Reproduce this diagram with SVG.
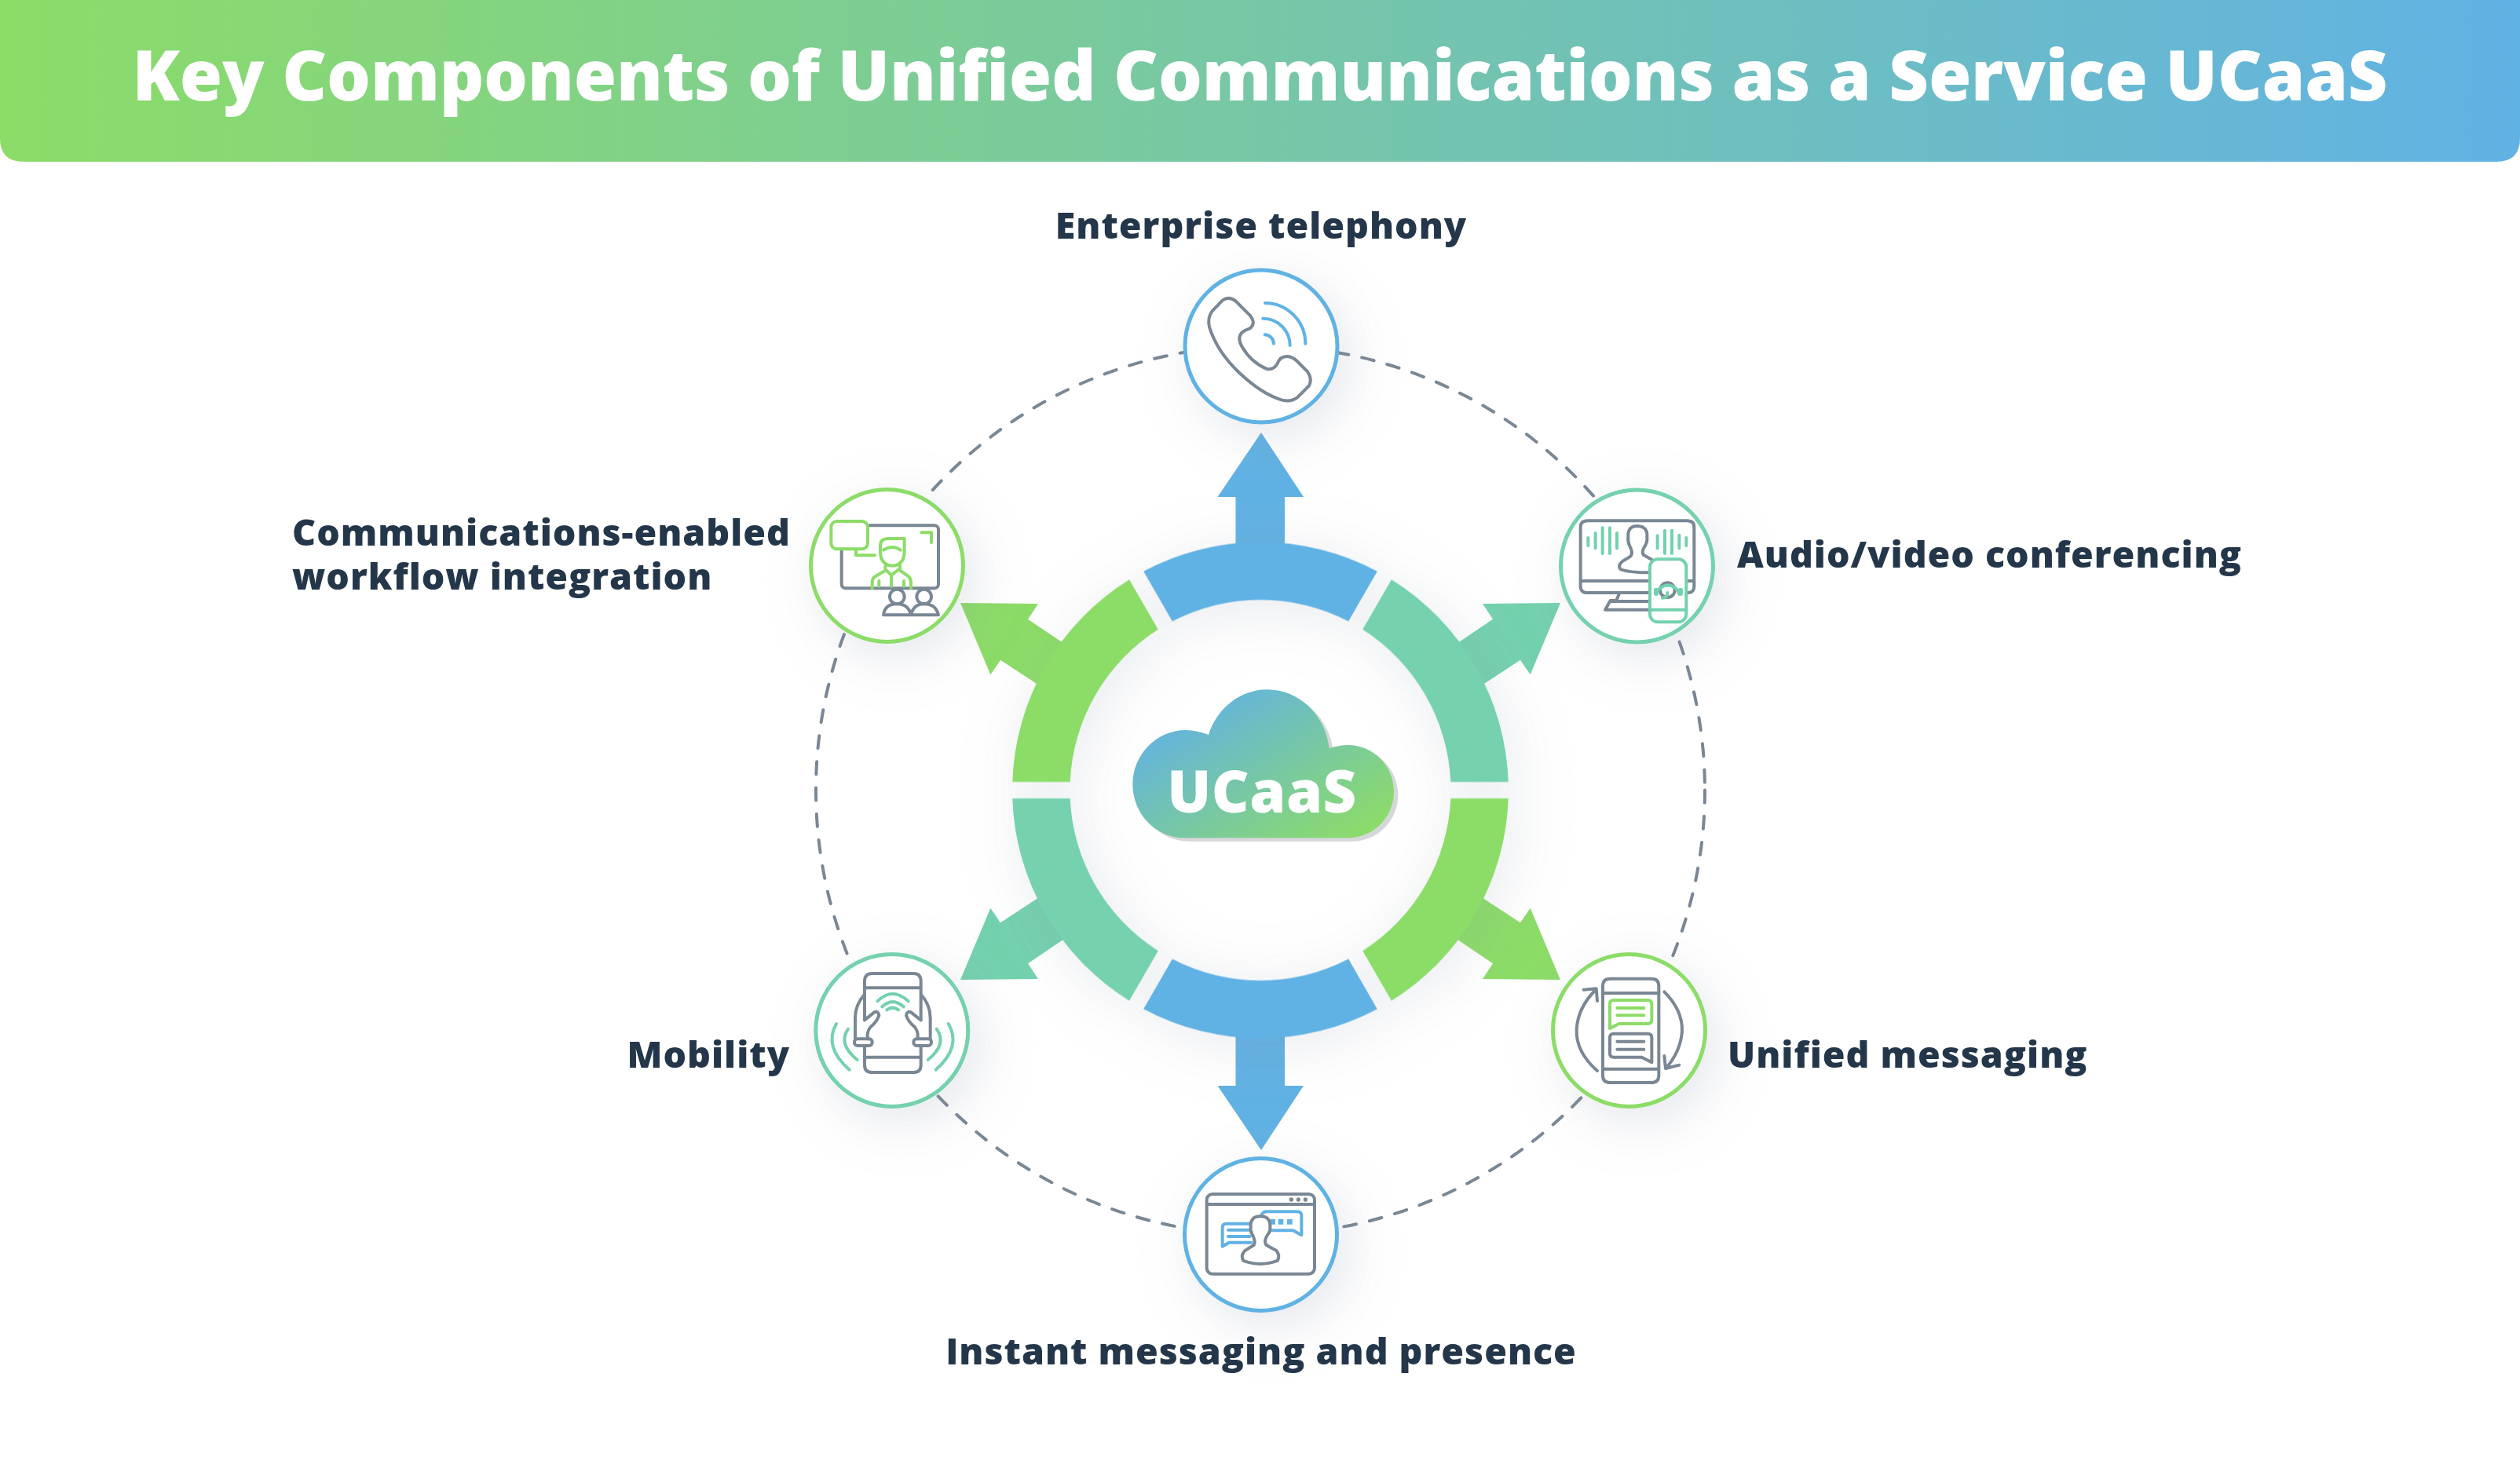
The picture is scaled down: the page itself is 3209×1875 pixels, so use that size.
<svg xmlns="http://www.w3.org/2000/svg" width="3209" height="1875" viewBox="0 0 3209 1875">
<style>
.lbl{font-family:"Open Sans","Liberation Sans",sans-serif;font-weight:800;font-size:46.5px;letter-spacing:1px;fill:#24374a}
.ttl{font-family:"Open Sans","Liberation Sans",sans-serif;font-weight:800;font-size:88px;letter-spacing:-.2px;fill:#fff}
.ic{fill:none;stroke-width:12;stroke-linecap:round;stroke-linejoin:round}
.g{stroke:#7a8794}.b{stroke:#61b2e4}.t{stroke:#74d1ae}.n{stroke:#8cdc68}
.nc{fill:#fff;stroke-width:5;filter:url(#ns)}
</style>
<defs>
<linearGradient id="hg" x1="0" y1="0" x2="1" y2="0"><stop offset="0" stop-color="#8cdc68"/><stop offset="1" stop-color="#61b2e4"/></linearGradient>
<linearGradient id="cg" x1="0.08" y1="0.2" x2="0.92" y2="0.95"><stop offset="0" stop-color="#61b2e4"/><stop offset="1" stop-color="#8cdc68"/></linearGradient>
<filter id="ns" x="-70%" y="-70%" width="240%" height="240%"><feDropShadow dx="14" dy="18" stdDeviation="34" flood-color="#8a93a8" flood-opacity=".22"/></filter>
<filter id="rs" x="-30%" y="-30%" width="160%" height="160%"><feDropShadow dx="8" dy="10" stdDeviation="38" flood-color="#8a93a8" flood-opacity=".2"/></filter>
<path id="seg" d="M-148.8-278.7A316 316 0 0 1 148.8-278.7L112.1-215.1A242.5 242.5 0 0 0-112.1-215.1Z"/>
<polygon id="arD" points="1987,768 1888,769 1901,788.7 1837,832 1870,884 1936,840.7 1948.7,859.3"/>
<polygon id="arV" points="1606,551 1550.5,633 1573.5,633 1573.5,705 1636,705 1636,633 1660,633"/>
</defs>
<rect width="3209" height="1875" fill="#fff"/>
<g id="header"><path d="M0 0H3209V176Q3209 206 3179 206H30Q0 206 0 176Z" fill="url(#hg)"/>
<text class="ttl" x="1604.5" y="128" text-anchor="middle">Key Components of Unified Communications as a Service UCaaS</text></g>
<g id="connectors">
<circle cx="1605" cy="1006.5" r="566" fill="none" stroke="#7a8794" stroke-width="4" stroke-linecap="round" stroke-dasharray="16 17.3"/>
<use href="#arV" fill="#61b2e4"/>
<use href="#arV" fill="#61b2e4" transform="translate(0 2016) scale(1 -1)"/>
<use href="#arD" fill="#74d1ae"/>
<use href="#arD" fill="#8cdc68" transform="translate(0 2016) scale(1 -1)"/>
<use href="#arD" fill="#8cdc68" transform="translate(3210 0) scale(-1 1)"/>
<use href="#arD" fill="#74d1ae" transform="translate(3210 2016) scale(-1 -1)"/>
</g>
<g id="ring" filter="url(#rs)" transform="translate(1605 1006.5)">
<use href="#seg" fill="#61b2e4"/>
<use href="#seg" fill="#74d1ae" transform="rotate(60)"/>
<use href="#seg" fill="#8cdc68" transform="rotate(120)"/>
<use href="#seg" fill="#61b2e4" transform="rotate(180)"/>
<use href="#seg" fill="#74d1ae" transform="rotate(240)"/>
<use href="#seg" fill="#8cdc68" transform="rotate(300)"/>
</g>
<g id="cloud">
<g transform="translate(1400 850) scale(.33333)">
<path fill="#d6d7d9" transform="translate(16 13)" d="M325 652C215 652 127 560 127 447C127 335 217 240 330 240C360 240 390 247 417 258C450 155 540 85 640 85C765 85 865 185 878 310C900 302 925 297 950 297C1047 297 1125 377 1125 475C1125 573 1047 652 950 652Z"/>
<path fill="url(#cg)" d="M325 652C215 652 127 560 127 447C127 335 217 240 330 240C360 240 390 247 417 258C450 155 540 85 640 85C765 85 865 185 878 310C900 302 925 297 950 297C1047 297 1125 377 1125 475C1125 573 1047 652 950 652Z"/>
</g>
<text x="1607" y="1035" text-anchor="middle" font-family="'Open Sans','Liberation Sans',sans-serif" font-weight="800" font-size="74" letter-spacing=".5" fill="#fff">UCaaS</text>
</g>
<g id="node-telephony">
<circle class="nc b" cx="1606" cy="441" r="97"/>
<g class="ic" transform="translate(1450 320) scale(.33333)">
<path class="g" d="M320 188Q345 170 370 190L425 245Q450 275 425 295Q408 300 395 310Q375 330 395 365Q430 425 490 450Q515 455 530 430Q540 400 570 402Q590 405 605 420L645 460Q665 490 650 515L605 560Q580 578 545 568Q470 545 385 465Q300 385 270 290Q262 255 280 230Z"/>
<path class="b" d="M483 198A155 155 0 0 1 637 353M475 257A103 103 0 0 1 578 360M482 319A35 35 0 0 1 516 353"/>
</g>
<text class="lbl" x="1606" y="304" text-anchor="middle">Enterprise telephony</text>
</g>
<g id="node-conferencing">
<circle class="nc t" cx="2084.5" cy="721" r="97"/>
<g class="ic" transform="translate(1960 600) scale(.33333)">
<path class="g" d="M420 465H185Q158 465 158 440V215Q158 190 185 190H565Q592 190 592 215V440Q592 465 568 465M158 420H418M565 420H592M305 470L295 495H272L252 530H420M275 498H420"/>
<path class="g" d="M375 210Q338 210 340 250Q338 270 345 285Q360 310 350 325Q330 338 318 345Q300 360 310 375Q340 388 420 388M375 210Q415 212 412 250Q414 270 405 285Q388 310 400 322L430 338"/>
<path class="t" d="M187 255V285M215 237V295M242 217V315M270 217V315M297 237V295M452 247V295M480 227V315M507 227V315M535 245V295M562 255V285"/>
<rect class="t" style="fill:#fff" x="423" y="337" width="139" height="240" rx="30"/>
<path class="t" d="M423 530H562"/>
<circle class="g" cx="490" cy="455" r="28"/>
<path class="t" d="M448 470A45 45 0 0 1 535 470M470 485Q490 485 490 465"/>
<path class="t" stroke-width="18" d="M447 455V468M540 455V468"/>
</g>
<text class="lbl" x="2212" y="723">Audio/video conferencing</text>
</g>
<g id="node-unified">
<circle class="nc n" cx="2074.5" cy="1312.5" r="97"/>
<g class="ic" transform="translate(1960 1200) scale(.33333)">
<path class="g" d="M271 140H429Q457 140 457 168V509Q457 537 429 537H271Q243 537 243 509V168Q243 140 271 140ZM243 195H457M243 485H457"/>
<path class="n" d="M285 222H415Q430 222 430 237V298Q430 312 415 312H305L270 330V237Q270 222 285 222ZM298 252H400M298 280H400"/>
<path class="g" d="M285 350H415Q430 350 430 365V460L392 440H285Q270 440 270 425V365Q270 350 285 350ZM298 380H400M298 410H400"/>
<path class="g" d="M222 492Q140 420 143 335Q147 250 218 180M170 182L218 178L222 225M478 190Q548 260 546 340Q540 420 483 483M478 435L483 483L535 470"/>
</g>
<text class="lbl" x="2200" y="1360">Unified messaging</text>
</g>
<g id="node-instant">
<circle class="nc b" cx="1605.5" cy="1572.5" r="97"/>
<g class="ic" transform="translate(1490 1460) scale(.33333)">
<rect class="g" x="140" y="183" width="412" height="305" rx="22"/>
<path class="g" d="M140 222H552"/>
<circle cx="463" cy="204" r="8" fill="#7a8794"/><circle cx="490" cy="204" r="8" fill="#7a8794"/><circle cx="517" cy="204" r="8" fill="#7a8794"/>
<path class="b" d="M315 296H215Q200 296 200 311V383L225 368H310M222 320H305M222 345H305M350 262Q355 250 370 250H485Q502 250 502 265V340L470 322H385"/>
<path fill="#61b2e4" d="M382 279h20v20h-20zM413 279h20v20h-20zM447 279h20v20h-20z"/>
<path class="g" style="fill:#fff" d="M345 268Q305 268 308 310Q306 325 313 335Q328 362 320 378Q300 390 285 400Q268 418 280 438Q345 462 410 438Q422 418 405 398Q385 388 368 378Q355 362 375 335Q384 325 382 310Q385 268 345 268Z"/>
</g>
<text class="lbl" x="1606" y="1738" text-anchor="middle">Instant messaging and presence</text>
</g>
<g id="node-mobility">
<circle class="nc t" cx="1135.8" cy="1312.5" r="97"/>
<g class="ic" transform="translate(1020 1200) scale(.33333)">
<path class="g" d="M243 298V150Q243 120 272 120H430Q458 120 458 150V298M243 175H458M243 395V470Q243 498 272 498H430Q458 498 458 470V395M243 440H458"/>
<path class="g" d="M243 200Q207 240 207 290V370M243 298L280 268Q295 262 298 280Q290 305 265 325Q250 345 255 370M458 200Q494 240 494 290V370M458 298L420 268Q405 262 402 280Q410 305 435 325Q450 345 445 370"/>
<rect class="g" x="204" y="370" width="68" height="26" rx="12"/>
<rect class="g" x="430" y="370" width="68" height="26" rx="12"/>
<path class="t" d="M292 226Q350 170 410 226M310 247Q350 210 392 247M328 259Q350 243 372 259M135 312Q85 400 185 488M180 332Q140 390 215 450M563 312Q615 400 515 488M518 332Q560 390 485 450"/>
</g>
<text class="lbl" x="1006" y="1360" text-anchor="end">Mobility</text>
</g>
<g id="node-workflow">
<circle class="nc n" cx="1129.5" cy="720.5" r="97"/>
<g class="ic" transform="translate(1020 610) scale(.33333)">
<rect class="g" x="155" y="178" width="370" height="240" rx="15"/>
<rect class="n" style="fill:#fff" x="115" y="162" width="140" height="106" rx="22"/>
<path class="n" d="M210 270V292H282M460 205H498V243M303 280V255Q303 228 335 228H395V280Q392 330 350 332Q305 330 303 280ZM315 272Q350 250 380 272M322 335V350L280 375Q272 382 272 395V418M378 320V350L410 372Q420 382 420 395V418M322 345L345 368L375 345M345 368V410M298 390V410M393 390V410"/>
<circle class="g" cx="367" cy="450" r="28"/><circle class="g" cx="470" cy="450" r="28"/>
<path class="g" d="M315 520Q320 478 367 478Q410 478 420 520ZM420 520Q430 478 470 478Q515 478 525 520Z"/>
</g>
<text class="lbl" x="372" y="695">Communications-enabled</text>
<text class="lbl" x="372" y="751">workflow integration</text>
</g>
</svg>
